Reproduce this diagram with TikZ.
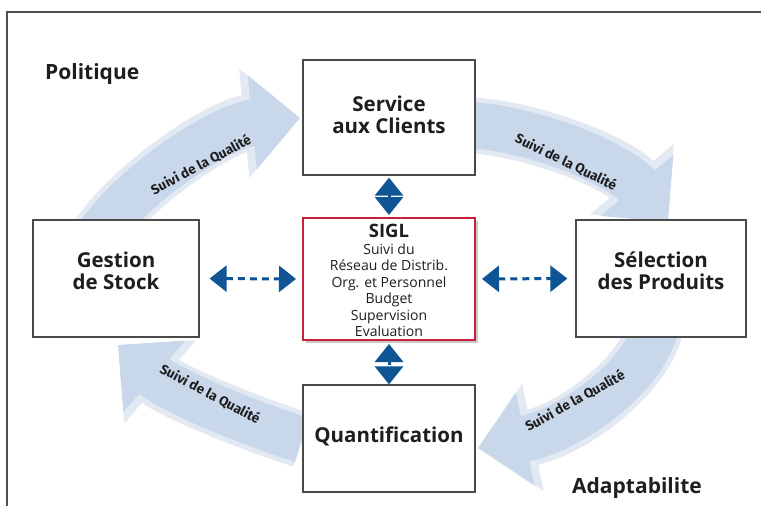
\documentclass[tikz,border=0pt]{standalone}
\usepackage{fontspec}
\setmainfont{Open Sans}
\newfontfamily\lblfont{Fira Sans}
\usetikzlibrary{arrows.meta,shadows}
\definecolor{bandblue}{HTML}{C9D7EA}
\definecolor{bandsoft}{HTML}{E2E9F3}
\definecolor{tipblue}{HTML}{0F5596}
\definecolor{boxgray}{HTML}{4A4A4A}
\definecolor{siglred}{HTML}{C8203A}
\definecolor{txt}{HTML}{1E1E1E}
\definecolor{framegray}{HTML}{505050}
\begin{document}
\begin{tikzpicture}[x=1pt,y=-1pt,
  box/.style={draw=boxgray, line width=1.2pt, fill=white, inner sep=0pt},
  boxtext/.style={align=center, text=txt, inner sep=0pt, font=\fontsize{20.5}{22}\selectfont\bfseries},
  corner/.style={anchor=base west, text=txt, inner sep=0pt, font=\fontsize{21}{23}\selectfont\bfseries},
  bandsoftline/.style={draw=bandsoft, line width=56pt, -{Triangle[length=56pt,width=106pt]}},
  bandline/.style={draw=bandblue, line width=46pt, -{Triangle[length=48pt,width=92pt]}},
  bandlabel/.style={text=txt, inner sep=0pt, font=\lblfont\fontsize{13.5}{15}\selectfont\bfseries},
  biarrow/.style={draw=tipblue, line width=3pt, dash pattern=on 7pt off 5pt,
     {Triangle[length=17pt,width=26pt]}-{Triangle[length=17pt,width=26pt]}},
  vbiarrow/.style={draw=tipblue, line width=3pt, dash pattern=on 4pt off 3pt,
     {Triangle[length=18pt,width=28pt]}-{Triangle[length=18pt,width=28pt]}}
]
\useasboundingbox (0,0) rectangle (761,506);
\fill[white] (0,0) rectangle (761,506);

% frame
\coordinate (ftl) at (7,12);
\coordinate (ftr) at (761,12);
\coordinate (fbl) at (7,506);
\draw[framegray, line width=1.5pt] (ftr) -- (ftl) -- (fbl);

% background cycle arrows
\draw[bandsoftline] (95,240) .. controls (135,180) and (225,125) .. (300,118);
\draw[bandsoftline] (470,125) .. controls (540,130) and (620,165) .. (668,222);
\draw[bandsoftline] (655,330) .. controls (640,380) and (570,430) .. (478,448);
\draw[bandsoftline] (302,440) .. controls (240,420) and (170,390) .. (118,345);
\draw[bandline] (95,240) .. controls (135,180) and (225,125) .. (300,118);
\draw[bandline] (470,125) .. controls (540,130) and (620,165) .. (668,222);
\draw[bandline] (655,330) .. controls (640,380) and (570,430) .. (478,448);
\draw[bandline] (302,440) .. controls (240,420) and (170,390) .. (118,345);

\node[bandlabel, rotate=28] (q1) at (201,165) {Suivi de la Qualité};
\node[bandlabel, rotate=-26] (q2) at (566,162) {Suivi de la Qualité};
\node[bandlabel, rotate=29] (q3) at (575,401) {Suivi de la Qualité};
\node[bandlabel, rotate=-28] (q4) at (210,394) {Suivi de la Qualité};

% boxes
\node[box, minimum width=172pt, minimum height=115pt] (service) at (389,117.5) {};
\node[box, minimum width=166pt, minimum height=117pt] (stock) at (116,278.5) {};
\node[box, minimum width=170pt, minimum height=117pt] (select) at (661,278.5) {};
\node[box, minimum width=172pt, minimum height=107pt] (quant) at (389,438.5) {};
\node[box, draw=siglred, line width=2pt, minimum width=172pt, minimum height=122pt,
      drop shadow={shadow xshift=2.5pt, shadow yshift=-2.5pt, opacity=0.35, fill=black!60}] (sigl) at (389,279) {};

\node[boxtext] (servicetxt) at ([yshift=3pt]service.center) {Service\\aux Clients};
\node[boxtext] (stocktxt) at ([yshift=8pt]stock.center) {Gestion\\de Stock};
\node[boxtext] (selecttxt) at ([yshift=8pt]select.center) {Sélection\\des Produits};
\node[boxtext] (quanttxt) at ([yshift=2pt]quant.center) {Quantification};
\node[align=center, text=txt, inner sep=0pt, font=\fontsize{14}{16.5}\selectfont]
  (sigltxt) at ([yshift=-1.5pt]sigl.center)
  {{\fontsize{18.5}{17}\selectfont\bfseries SIGL}\\Suivi du\\Réseau de Distrib.\\Org. et Personnel\\Budget\\Supervision\\Evaluation};

\node[corner] (politique) at (45,79) {Politique};
\node[corner] (adapt) at (572,493) {Adaptabilite};

% blue double arrows
\draw[biarrow, shorten <=10pt, shorten >=6pt] (stock.east) -- (sigl.west);
\draw[biarrow, shorten <=6pt, shorten >=8pt] (sigl.east) -- (select.west);
\draw[vbiarrow, shorten <=2pt, shorten >=2pt] (service.south) -- (sigl.north);
\draw[vbiarrow, shorten <=3pt, shorten >=0pt] (sigl.south) -- (quant.north);
\end{tikzpicture}
\end{document}
